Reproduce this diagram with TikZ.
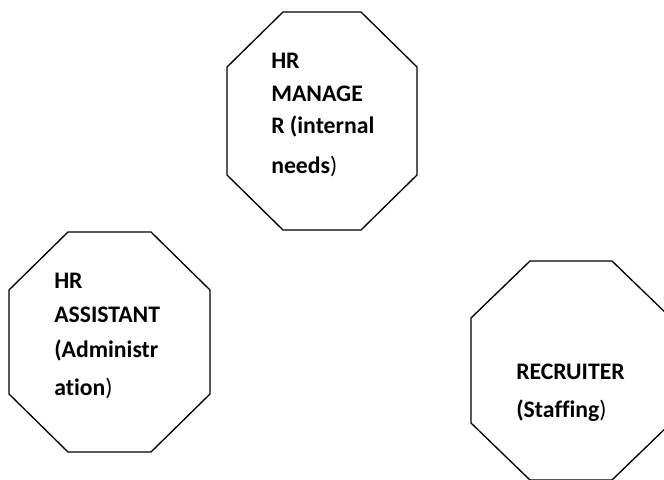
\documentclass[tikz,border=0pt]{standalone}
\usepackage{fontspec}
\setmainfont{Carlito}[Ligatures=NoCommon]
\newcommand\octshape[6]{%
  \draw[octline] (#1+#5,#2) -- (#3-#5,#2) -- (#3,#2+#6) -- (#3,#4-#6) -- (#3-#5,#4) -- (#1+#5,#4) -- (#1,#4-#6) -- (#1,#2+#6) -- cycle;}
\tikzset{
  octline/.style={draw=black, line width=1pt, line join=miter},
  lbl/.style={anchor=base west, inner sep=0pt, font=\fontsize{17.8}{20}\selectfont\bfseries},
}
\newcommand\rp{{\mdseries )}}
\begin{document}
\begin{tikzpicture}[x=0.75pt,y=-0.75pt]
\clip (0,0) rectangle (664,479);
\fill[white] (0,0) rectangle (664,479);
% top octagon
\octshape{227}{12}{417}{230}{56}{55}
\node[lbl] (t1) at (271,68) {HR};
\node[lbl] (t2) at (271,101) {MANAGE};
\node[lbl] (t3) at (271,133) {R (internal};
\node[lbl] (t4) at (271,173) {needs\rp};
% left octagon
\octshape{9}{232}{210}{452}{59}{58}
\node[lbl] (l1) at (54,288) {HR};
\node[lbl] (l2) at (54,322) {ASSISTANT};
\node[lbl] (l3) at (54,357) {(Administr};
\node[lbl] (l4) at (54,395) {ation\rp};
% right octagon
\octshape{471}{261}{671}{480}{59}{57}
\node[lbl] (r1) at (516,379) {RECRUITER};
\node[lbl] (r2) at (516,417) {(Staffing\rp};
\end{tikzpicture}
\end{document}
